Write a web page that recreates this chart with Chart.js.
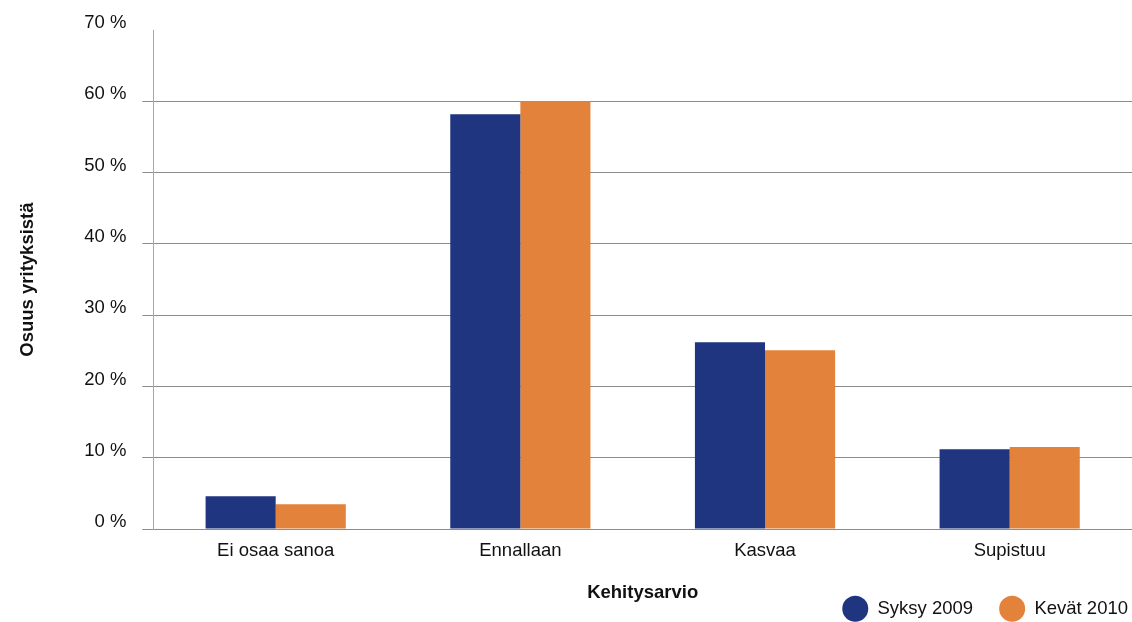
<!DOCTYPE html>
<html lang="fi">
<head>
  <meta charset="UTF-8">
  <title>Kehitysarvio</title>
  <script src="https://cdn.jsdelivr.net/npm/chart.js"></script>
  <style>
    body {
      margin: 0;
      padding: 0;
      background-color: #fff;
    }
    #contenedor {
      width: 1132px;
      height: 622px;
    }
  </style>
</head>
<body>
  <div id="contenedor">
    <canvas id="grafico"></canvas>
  </div>

  <script>
    var categorias = ['Ei osaa sanoa', 'Ennallaan', 'Kasvaa', 'Supistuu'];
    var syksy2009 = [4.6, 58.2, 26.2, 11.2];
    var kevat2010 = [3.5, 60.0, 25.1, 11.5];
    var ticksY = [0, 10, 20, 30, 40, 50, 60, 70];

    var fuente = 'Liberation Sans, Arial, Helvetica, sans-serif';

    // mover la leyenda hacia el borde derecho (el padding deja hueco al final)
    var moverLeyenda = {
      id: 'moverLeyenda',
      afterLayout: function (chart) {
        chart.legend.left += 22;
        chart.legend.right += 22;
      }
    };

    var ctx = document.getElementById('grafico').getContext('2d');
    var grafico = new Chart(ctx, {
      type: 'bar',
      data: {
        labels: categorias,
        datasets: [{
          label: 'Syksy 2009',
          data: syksy2009,
          backgroundColor: '#1f3580'
        }, {
          label: 'Kevät 2010',
          data: kevat2010,
          backgroundColor: '#e2823b'
        }]
      },
      plugins: [moverLeyenda],
      options: {
        responsive: true,
        maintainAspectRatio: false,
        animation: false,
        categoryPercentage: 0.573,
        barPercentage: 1,
        layout: {
          padding: { top: 30, right: 0, left: 17, bottom: -6 }
        },
        plugins: {
          tooltip: { enabled: false },
          legend: {
            position: 'bottom',
            align: 'end',
            labels: {
              usePointStyle: true,
              pointStyle: 'circle',
              pointStyleWidth: 26,
              boxHeight: 18.5,
              padding: 26,
              color: '#111',
              font: { family: fuente, size: 18.5 }
            }
          }
        },
        scales: {
          x: {
            grid: { display: false, drawTicks: false },
            border: { display: false },
            ticks: {
              color: '#111',
              padding: 11,
              font: { family: fuente, size: 18.5 }
            },
            title: {
              display: true,
              text: 'Kehitysarvio',
              color: '#111',
              padding: { top: 9, bottom: -31 },
              font: { family: fuente, size: 18.5, weight: 'bold' }
            }
          },
          y: {
            min: 0,
            max: 70,
            afterBuildTicks: function (eje) {
              eje.ticks = ticksY.map(function (v) { return { value: v }; });
            },
            grid: {
              color: function (c) {
                return c.tick && c.tick.value === 70 ? 'rgba(0,0,0,0)' : '#8c8c8c';
              },
              tickLength: 11,
              lineWidth: 1
            },
            border: { display: true, color: '#a8a8a8' },
            ticks: {
              color: '#111',
              padding: 16,
              labelOffset: -7,
              font: { family: fuente, size: 18.5 },
              callback: function (v) { return v + ' %'; }
            },
            title: {
              display: true,
              text: 'Osuus yrityksistä',
              color: '#111',
              padding: { top: 0, bottom: 29 },
              font: { family: fuente, size: 18.5, weight: 'bold' }
            }
          }
        }
      }
    });
  </script>
</body>
</html>
